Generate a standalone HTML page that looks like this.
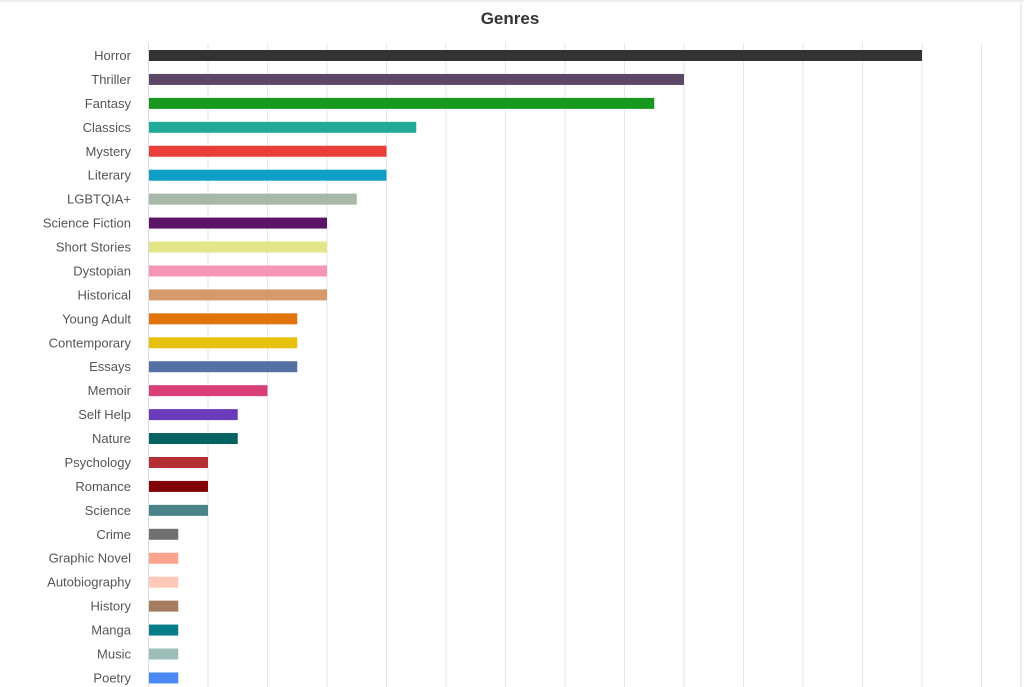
<!DOCTYPE html>
<html><head><meta charset="utf-8"><style>
html,body{margin:0;padding:0;background:#fff;}
svg{display:block;font-family:"Liberation Sans",sans-serif;}
</style></head><body>
<svg width="1024" height="687" viewBox="0 0 1024 687" xmlns="http://www.w3.org/2000/svg">
<rect x="0" y="0" width="1024" height="687" fill="#fff"/>
<line x1="0" y1="1" x2="1024" y2="1" stroke="#eee" stroke-width="2"/>
<line x1="1021" y1="0" x2="1021" y2="687" stroke="#eee" stroke-width="2"/>
<text x="510" y="24" text-anchor="middle" font-size="17" font-weight="bold" fill="#333">Genres</text>
<g id="grid" stroke="#e6e6e6" stroke-width="1"></g>
<g id="bars"></g>
<g id="labels" font-size="13" fill="#555" text-anchor="end"></g>
<script>
var d=[["Horror",13,"#333333"],["Thriller",9,"#5c4766"],["Fantasy",8.5,"#18981f"],["Classics",4.5,"#22aa96"],["Mystery",4,"#ea3f38"],["Literary",4,"#0e9ec6"],["LGBTQIA+",3.5,"#a8b8a6"],["Science Fiction",3,"#5c1466"],["Short Stories",3,"#e2e588"],["Dystopian",3,"#f595b8"],["Historical",3,"#d49a6c"],["Young Adult",2.5,"#e07408"],["Contemporary",2.5,"#e8c20a"],["Essays",2.5,"#5571a3"],["Memoir",2,"#d93f78"],["Self Help",1.5,"#6a3bba"],["Nature",1.5,"#046360"],["Psychology",1,"#b52e33"],["Romance",1,"#820404"],["Science",1,"#4a8288"],["Crime",0.5,"#707070"],["Graphic Novel",0.5,"#fca48e"],["Autobiography",0.5,"#fec9b8"],["History",0.5,"#a67c61"],["Manga",0.5,"#067d88"],["Music",0.5,"#9dbdb8"],["Poetry",0.5,"#4a88f2"]];
var ns="http://www.w3.org/2000/svg",u=59.5,x0=148.5;
var g=document.getElementById("grid"),b=document.getElementById("bars"),l=document.getElementById("labels");
for(var i=0;i<=14;i++){var e=document.createElementNS(ns,"line");var x=x0+i*u;e.setAttribute("x1",x);e.setAttribute("x2",x);e.setAttribute("y1",43);e.setAttribute("y2",687);if(i==0)e.setAttribute("stroke","#d8dce6");g.appendChild(e);}
d.forEach(function(r,i){var cy=55.5+i*23.94;var re=document.createElementNS(ns,"rect");re.setAttribute("x",x0+0.5);re.setAttribute("y",cy-5.5);re.setAttribute("width",r[1]*u-0.5);re.setAttribute("height",11);re.setAttribute("fill",r[2]);b.appendChild(re);
var t=document.createElementNS(ns,"text");t.setAttribute("x",131);t.setAttribute("y",cy+4.5);t.textContent=r[0];l.appendChild(t);});
</script>
</svg>
</body></html>
